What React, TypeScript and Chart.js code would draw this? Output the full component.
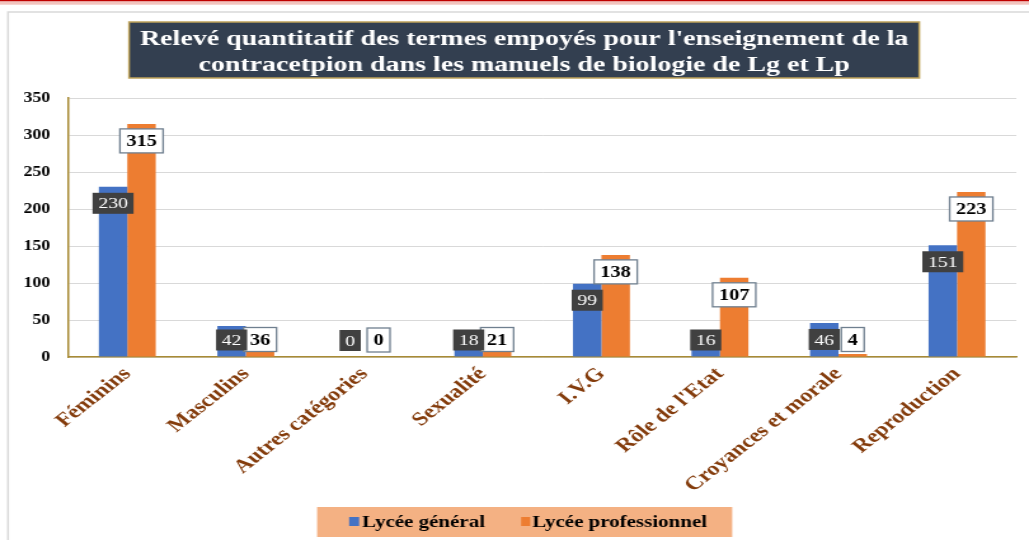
import React, { useEffect, useRef } from "react";
import { Chart, registerables } from "chart.js";

Chart.register(...registerables);

// ---- data ----
const categories = [
  "Féminins",
  "Masculins",
  "Autres catégories",
  "Sexualité",
  "I.V.G",
  "Rôle de l'Etat",
  "Croyances et morale",
  "Reproduction",
];
const lyceeGeneral = [230, 42, 0, 18, 99, 16, 46, 151];
const lyceeProfessionnel = [315, 36, 0, 21, 138, 107, 4, 223];
const yTicks = [0, 50, 100, 150, 200, 250, 300, 350];
const seriesNames = ["Lycée général", "Lycée professionnel"];
const titleLines = [
  "Relevé quantitatif des termes empoyés pour l'enseignement de la",
  "contracetpion dans les manuels de biologie de Lg et Lp",
];

// ---- layout helpers ----
const PAGE_W = 1029;
const PAGE_H = 540;
const SX = 1.27; // horizontal stretch of the rendering
const CW = Math.round(PAGE_W / SX);
const px = (x: number) => x / SX;
const SERIF = "'Liberation Serif', 'Times New Roman', serif";
const BLUE = "#4472C4";
const ORANGE = "#ED7D31";
const GOLD = "#A88B35";

const decorPlugin = {
  id: "decor",
  beforeDraw(chart: any) {
    const ctx = chart.ctx;
    ctx.save();
    ctx.fillStyle = "#ffffff";
    ctx.fillRect(0, 0, chart.width, chart.height);
    ctx.fillStyle = "#C00000";
    ctx.fillRect(0, 0, chart.width, 1.5);
    ctx.fillStyle = "#F2C4BE";
    ctx.fillRect(0, 1.5, chart.width, 3.2);
    ctx.strokeStyle = "#D9D9D9";
    ctx.lineWidth = 1.5;
    ctx.beginPath();
    ctx.moveTo(px(8), PAGE_H);
    ctx.lineTo(px(8), 12);
    ctx.lineTo(chart.width, 12);
    ctx.stroke();

    // title box
    const bx = px(129);
    const bw = px(919) - px(129);
    ctx.fillStyle = "#333F50";
    ctx.fillRect(bx, 22, bw, 56);
    ctx.strokeStyle = "#BFA35A";
    ctx.lineWidth = 1.5;
    ctx.strokeRect(bx, 22, bw, 56);
    ctx.fillStyle = "#ffffff";
    ctx.font = `bold 22px ${SERIF}`;
    ctx.textAlign = "center";
    ctx.textBaseline = "alphabetic";
    ctx.fillText(titleLines[0], px(524), 45);
    ctx.fillText(titleLines[1], px(524), 71);
    ctx.restore();
  },
  afterDatasetsDraw(chart: any) {
    const ctx = chart.ctx;
    ctx.save();
    ctx.textAlign = "center";
    ctx.textBaseline = "middle";
    // orange labels first
    const m1 = chart.getDatasetMeta(1);
    m1.data.forEach((bar: any, i: number) => {
      const v = lyceeProfessionnel[i];
      const cy = Math.min(bar.y + 17, bar.base - 17);
      ctx.font = `bold 16px ${SERIF}`;
      const tw = ctx.measureText(String(v)).width;
      const w = tw + 10;
      const h = 24;
      ctx.fillStyle = "#ffffff";
      ctx.fillRect(bar.x - w / 2, cy - h / 2, w, h);
      ctx.strokeStyle = "#6F7F8F";
      ctx.lineWidth = 1.3;
      ctx.strokeRect(bar.x - w / 2, cy - h / 2, w, h);
      ctx.fillStyle = "#000000";
      ctx.fillText(String(v), bar.x, cy + 1);
    });
    const m0 = chart.getDatasetMeta(0);
    m0.data.forEach((bar: any, i: number) => {
      const v = lyceeGeneral[i];
      const cy = Math.min(bar.y + 16.5, bar.base - 16.5);
      ctx.font = `15.5px ${SERIF}`;
      const tw = ctx.measureText(String(v)).width;
      const w = tw + 9;
      const h = 21;
      ctx.fillStyle = "#404040";
      ctx.fillRect(bar.x - w / 2, cy - h / 2, w, h);
      ctx.fillStyle = "#ffffff";
      ctx.fillText(String(v), bar.x, cy + 1);
    });
    ctx.restore();
  },
  afterDraw(chart: any) {
    const ctx = chart.ctx;
    ctx.save();
    ctx.fillStyle = "#F4B183";
    ctx.fillRect(px(317), 507, px(732) - px(317), 30);
    ctx.fillStyle = BLUE;
    ctx.fillRect(px(349), 517, px(359) - px(349), 9);
    ctx.fillStyle = ORANGE;
    ctx.fillRect(px(521), 517, px(530) - px(521), 9);
    ctx.fillStyle = "#000000";
    ctx.font = `bold 16.5px ${SERIF}`;
    ctx.textAlign = "left";
    ctx.textBaseline = "alphabetic";
    ctx.fillText(seriesNames[0], px(362), 527);
    ctx.fillText(seriesNames[1], px(532), 527);
    ctx.restore();
  },
};

export default function App() {
  const ref = useRef<HTMLCanvasElement | null>(null);
  useEffect(() => {
    if (!ref.current) return;
    const chart = new Chart(ref.current, {
      type: "bar",
      data: {
        labels: categories,
        datasets: [
          {
            label: seriesNames[0],
            data: lyceeGeneral,
            backgroundColor: BLUE,
            categoryPercentage: 0.48,
            barPercentage: 1,
          },
          {
            label: seriesNames[1],
            data: lyceeProfessionnel,
            backgroundColor: ORANGE,
            categoryPercentage: 0.48,
            barPercentage: 1,
          },
        ],
      },
      options: {
        animation: false,
        responsive: false,
        devicePixelRatio: 1,
        events: [],
        layout: { padding: { top: 98, left: 0, right: CW - px(1016), bottom: 0 } },
        plugins: {
          legend: { display: false },
          title: { display: false },
          tooltip: { enabled: false },
        },
        scales: {
          x: {
            grid: { display: false, drawTicks: false },
            border: { display: true, color: GOLD, width: 1.5 },
            ticks: {
              autoSkip: false,
              minRotation: 45,
              maxRotation: 45,
              padding: 6,
              color: "#843C0C",
              font: { family: SERIF, size: 19, weight: "bold" },
            },
            afterFit: (s: any) => {
              s.height = PAGE_H - 357;
            },
          },
          y: {
            min: 0,
            max: 350,
            afterBuildTicks: (s: any) => {
              s.ticks = yTicks.map((v) => ({ value: v }));
            },
            grid: { color: "#D9D9D9", lineWidth: 1, drawTicks: false },
            border: { display: true, color: GOLD, width: 1.5 },
            ticks: {
              padding: 14,
              color: "#000000",
              font: { family: SERIF, size: 14, weight: "bold" },
            },
            afterFit: (s: any) => {
              s.width = px(68);
            },
          },
        },
      },
      plugins: [decorPlugin],
    } as any);
    return () => chart.destroy();
  }, []);

  return (
    <div style={{ position: "absolute", left: 0, top: 0, width: PAGE_W, height: PAGE_H, background: "#fff" }}>
      <canvas
        ref={ref}
        width={CW}
        height={PAGE_H}
        style={{ width: PAGE_W + "px", height: PAGE_H + "px", display: "block" }}
      />
    </div>
  );
}
